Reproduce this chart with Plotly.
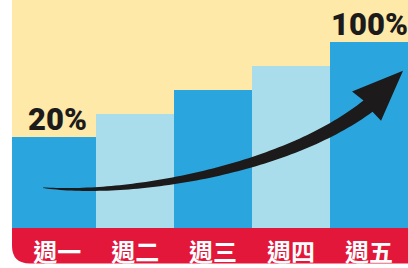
import numpy as np
import plotly.graph_objects as go

# ---- data ----
days = ["週一", "週二", "週三", "週四", "週五"]
values = [20, 40, 60, 80, 100]
value_labels = ["20%", "", "", "", "100%"]

# ---- style ----
YELLOW = "#FEE9A8"
DARK_BLUE = "#2AA5DE"
LIGHT_BLUE = "#AADDEC"
RED = "#E2173A"
INK = "#1C1A1A"
bar_colors = [DARK_BLUE if i % 2 == 0 else LIGHT_BLUE for i in range(len(days))]

W, H = 408, 268
ML, MR, MT, MB = 12, 0, 0, 36
X_RANGE = [-0.58, len(days) - 0.5]
BASE = -56
Y_RANGE = [BASE, 135.3]

n = len(days)
xs = list(range(n))
widths = [1 - X_RANGE[0] - 0.5 if i == 0 else 1 for i in range(n)]
offsets = [X_RANGE[0] if i == 0 else -0.5 for i in range(n)]

fig = go.Figure()
fig.add_trace(go.Bar(
    x=xs, y=[v - BASE for v in values], base=BASE,
    width=widths, offset=offsets,
    marker=dict(color=bar_colors, line=dict(width=0)),
    hoverinfo="skip",
))

# value labels above first and last bars
for i, lab in enumerate(value_labels):
    if lab:
        fig.add_annotation(
            x=xs[i], y=values[i], text=lab, showarrow=False,
            xanchor="center", yanchor="bottom", yshift=-3,
            font=dict(family="Roboto, Liberation Sans, sans-serif",
                      size=31, color=INK, weight=900),
        )

# ---- curved arrow (decoration, in data units) ----
plot_w = W - ML - MR
plot_h = H - MT - MB
S = np.array([plot_w / (X_RANGE[1] - X_RANGE[0]), plot_h / (Y_RANGE[1] - Y_RANGE[0])])
ctrl = np.array([[-0.182, -22.2], [0.934, -29.6], [2.922, -7.3], [3.987, 46.3]]) * S
tip = np.array([4.436, 76.0]) * S
barb_up = np.array([3.782, 58.6]) * S
barb_lo = np.array([4.154, 33.9]) * S

t = np.linspace(0, 1, 80)[:, None]
B = ((1 - t) ** 3) * ctrl[0] + 3 * ((1 - t) ** 2) * t * ctrl[1] + 3 * (1 - t) * t ** 2 * ctrl[2] + t ** 3 * ctrl[3]
dB = 3 * ((1 - t) ** 2) * (ctrl[1] - ctrl[0]) + 6 * (1 - t) * t * (ctrl[2] - ctrl[1]) + 3 * t ** 2 * (ctrl[3] - ctrl[2])
nrm = np.column_stack([-dB[:, 1], dB[:, 0]])
nrm /= np.linalg.norm(nrm, axis=1)[:, None]
half = (0.6 + 14 * t[:, 0] ** 0.85) / 2
upper = B + nrm * half[:, None]
lower = B - nrm * half[:, None]
poly = np.vstack([upper, [barb_up, tip, barb_lo], lower[::-1]]) / S
path = "M " + " L ".join(f"{px:.4f},{py:.4f}" for px, py in poly) + " Z"

fig.add_shape(type="path", xref="x", yref="y", path=path,
              fillcolor=INK, line=dict(width=0), layer="above")

# ---- red label band with rounded bottom-left corner ----
band_h = MB / plot_h
rx = 18 / plot_w
ry = 18 / plot_h
band_path = (f"M 0,0 L 1,0 L 1,{-band_h} L {rx},{-band_h} "
             f"Q 0,{-band_h} 0,{-band_h + ry} Z")
fig.add_shape(type="path", xref="paper", yref="paper", path=band_path,
              fillcolor=RED, line=dict(width=0), layer="below")

fig.update_layout(
    width=W, height=H,
    margin=dict(l=ML, r=MR, t=MT, b=MB, pad=0),
    paper_bgcolor="white", plot_bgcolor=YELLOW,
    bargap=0, showlegend=False,
    xaxis=dict(range=X_RANGE, tickvals=xs, ticktext=days, showgrid=False,
               zeroline=False, showline=False, ticks="", fixedrange=True,
               ticklabelstandoff=8,
               tickfont=dict(family="Noto Sans CJK TC", size=24, color="white", weight="bold")),
    yaxis=dict(range=Y_RANGE, showgrid=False, zeroline=False, showline=False,
               showticklabels=False, ticks="", fixedrange=True),
)

fig.write_html("out.html", config={"displayModeBar": False},
               post_script="document.body.style.margin='0';")
